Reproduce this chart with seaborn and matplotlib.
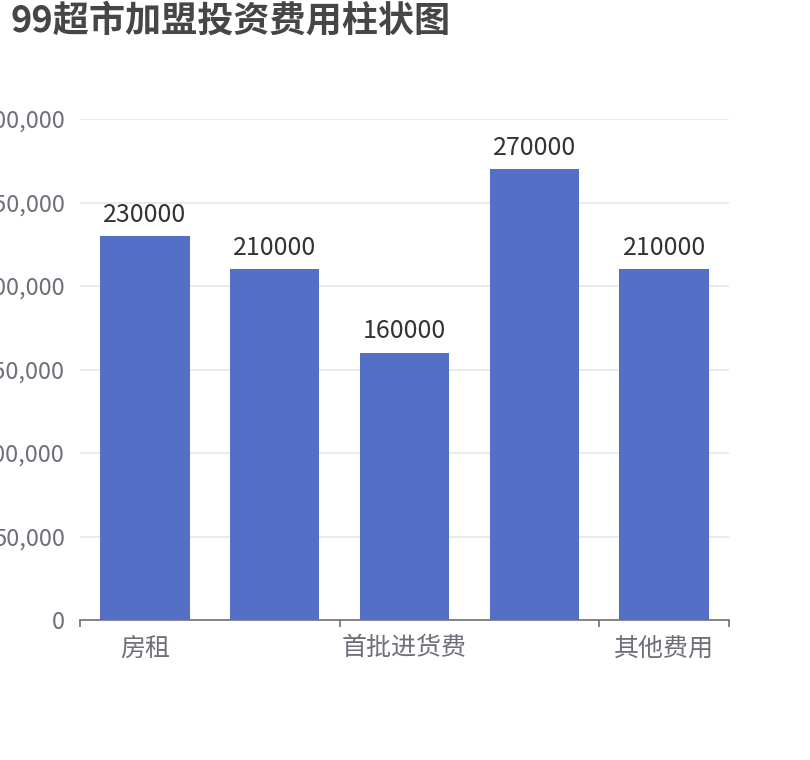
"""
99超市加盟投资费用柱状图 - bar chart of franchise investment costs
"""
import matplotlib
matplotlib.use("Agg")
import matplotlib.pyplot as plt
from matplotlib.ticker import FuncFormatter, FixedLocator
import pandas as pd
import seaborn as sns

# data
categories = ['房租', '装修费', '首批进货费', '加盟费', '其他费用']
costs = [230000, 210000, 160000, 270000, 210000]
shown_labels = ['房租', '首批进货费', '其他费用']
y_ticks = [0, 50000, 100000, 150000, 200000, 250000, 300000]

df = pd.DataFrame({'项目': categories, '费用': costs})

sns.set_theme(style='white')
plt.rcParams['font.family'] = ['Noto Sans CJK SC', 'DejaVu Sans']

fig = plt.figure(figsize=(8.1, 7.6), dpi=100)
ax = fig.add_axes([80 / 810, 1 - 620 / 760, 649 / 810, 501 / 760])

sns.barplot(data=df, x='项目', y='费用', color='#5470C6', saturation=1,
            width=0.69, ax=ax, zorder=3, linewidth=0)

# value labels on top of each bar
ax.bar_label(ax.containers[0], labels=[str(v) for v in costs],
             padding=6, fontsize=18, color='#333333')

ax.set_xlim(-0.5, len(categories) - 0.5)
ax.set_ylim(0, 300000)
ax.set_yticks(y_ticks)
ax.yaxis.set_major_formatter(FuncFormatter(lambda v, p: f'{int(v):,}'))
ax.grid(axis='y', color='#E0E6F1', linewidth=1.2, zorder=0)
ax.set_axisbelow(True)

# only every other category label is shown, ticks sit at the boundaries
ax.set_xticks([0, 2, 4])
ax.set_xticklabels(shown_labels)
ax.xaxis.set_minor_locator(FixedLocator([-0.5, 1.5, 3.5, 4.5]))
ax.tick_params(axis='x', which='major', length=0, pad=11, labelsize=18, labelcolor='#6E7079')
ax.tick_params(axis='x', which='minor', length=5, width=1.2, color='#6E7079', bottom=True)
ax.tick_params(axis='y', length=0, pad=11, labelsize=17, labelcolor='#6E7079')

for side in ['top', 'right', 'left']:
    ax.spines[side].set_visible(False)
ax.spines['bottom'].set_color('#6E7079')
ax.spines['bottom'].set_linewidth(1.2)
ax.set_xlabel('')
ax.set_ylabel('')

fig.text(10 / 810, 1 - 3 / 760, '99超市加盟投资费用柱状图', fontsize=26,
         fontweight='bold', color='#464646', ha='left', va='top')

fig.savefig('out.png', dpi=100)
